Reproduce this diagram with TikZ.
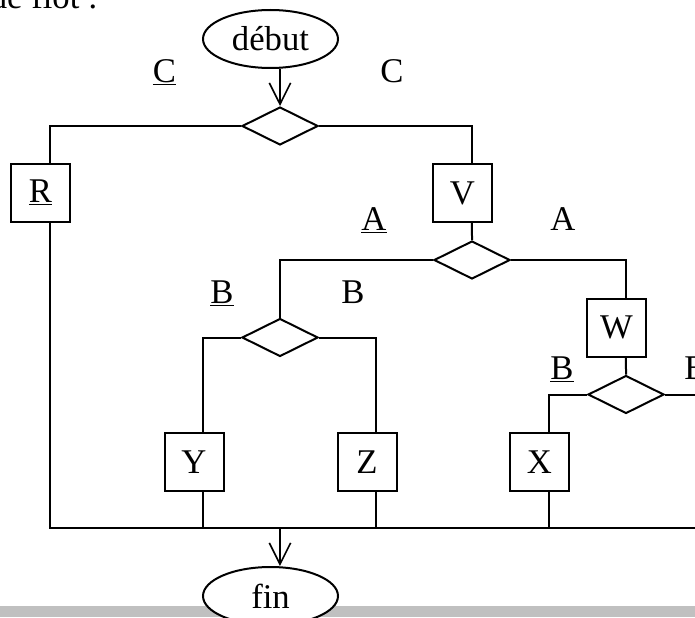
\documentclass[tikz,border=0pt]{standalone}
\usepackage{fontspec}
\setmainfont{Liberation Serif}
\usepackage{tikz}
\usetikzlibrary{positioning,calc}
\usetikzlibrary{arrows.meta,shapes.geometric}
\definecolor{BarGray}{RGB}{192,192,192}
\tikzset{
  line/.style={draw=black,line width=1.5pt},
  flow/.style={draw=black,line width=1.2pt,-{Straight Barb[length=16pt,width=16pt,line width=1.2pt]}},
  blk/.style={rectangle,draw=black,fill=white,line width=1.5pt,inner sep=0pt,
    minimum width=44.25pt,minimum height=43.5pt},
  test/.style={diamond,draw=black,fill=white,line width=1.5pt,inner sep=0pt,aspect=2,
    minimum width=57pt,minimum height=28.5pt},
  term/.style={ellipse,draw=black,fill=white,line width=1.5pt,inner sep=0pt,
    minimum width=101.25pt,minimum height=43.5pt},
}
\tikzset{lbl/.style={anchor=base,inner sep=0pt}}
\newcommand{\sh}{7.1pt}

\begin{document}
\begin{tikzpicture}[x=0.75pt,y=-0.75pt,font=\fontsize{26}{31}\selectfont]
\clip (0,0) rectangle (695,617);
\fill[white] (0,0) rectangle (695,617);
\fill[BarGray] (0,606) rectangle (695,617);
\node[lbl,anchor=base east] (title) at (98,9) {de flot :};
% terminals and tests
\node[term] (debut) at (270.5,39) {d\'ebut};
\node[test] (dC) at (280,126) {};
\node[test] (dA) at (472,260) {};
\node[test] (dBl) at (280,337.5) {};
\node[test] (dBr) at (626,394.5) {};
% actions
\node[blk] (R) at (40.5,192.5) {\underline{R}};
\node[blk] (V) at (462.5,193) {V};
\node[blk] (W) at (616.5,327.5) {W};
\node[blk] (Y) at (194,462) {Y};
\node[blk] (Z) at (367,462) {Z};
\node[blk] (X) at (539.5,462) {X};
% branch labels
\node[lbl] (lCu) at (164.5,82) {\underline{C}};
\node[lbl] (lC) at (392,82) {C};
\node[lbl] (lAu) at (374,230) {\underline{A}};
\node[lbl] (lA) at (563,230) {A};
\node[lbl] (lBu1) at (222,303) {\underline{B}};
\node[lbl] (lB1) at (353,303) {B};
\node[lbl] (lBu2) at (562,379) {\underline{B}};
\node[lbl] (lB2) at (696,379) {B};
% bus and off-page ends
\coordinate (busR) at (720,528);
\coordinate (busM) at (280,528);
\coordinate (offR) at (720,394.5);
\draw[flow] ([xshift=\sh]debut.south) -- (dC.north);
\draw[line] (dC.west) -| ([xshift=\sh]R.north);
\draw[line] (dC.east) -| ([xshift=\sh]V.north);
\draw[line] ([xshift=\sh]V.south) -- (dA.north);
\draw[line] (dA.west) -| (dBl.north);
\draw[line] (dA.east) -| ([xshift=\sh]W.north);
\draw[line] ([xshift=\sh]W.south) -- (dBr.north);
\draw[line] (dBl.west) -| ([xshift=\sh]Y.north);
\draw[line] (dBl.east) -| ([xshift=\sh]Z.north);
\draw[line] (dBr.west) -| ([xshift=\sh]X.north);
\draw[line] (dBr.east) -- (offR);
\draw[line] ([xshift=\sh]R.south) |- (busR);
\draw[line] ([xshift=\sh]Y.south) -- ([xshift=\sh]Y.south |- busR);
\draw[line] ([xshift=\sh]Z.south) -- ([xshift=\sh]Z.south |- busR);
\draw[line] ([xshift=\sh]X.south) -- ([xshift=\sh]X.south |- busR);
\node[term] (fin) at (270.5,596) {fin};
\draw[flow] (busM) -- ([xshift=\sh]fin.north);
\end{tikzpicture}
\end{document}
